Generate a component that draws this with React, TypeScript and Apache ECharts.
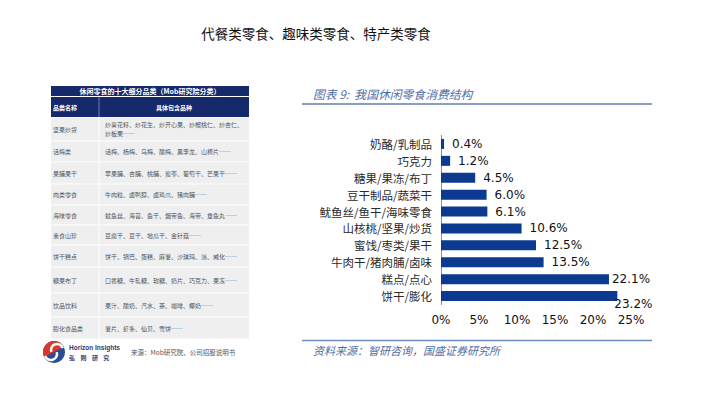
import React, { useEffect, useRef } from "react";
import * as echarts from "echarts";

const pageTitle = "代餐类零食、趣味类零食、特产类零食";
const chartTitle = "图表 9:  我国休闲零食消费结构";
const chartSource = "资料来源：智研咨询，国盛证券研究所";

const categories = [
  "奶酪/乳制品",
  "巧克力",
  "糖果/果冻/布丁",
  "豆干制品/蔬菜干",
  "鱿鱼丝/鱼干/海味零食",
  "山核桃/坚果/炒货",
  "蜜饯/枣类/果干",
  "牛肉干/猪肉脯/卤味",
  "糕点/点心",
  "饼干/膨化",
];
const shares = [0.4, 1.2, 4.5, 6.0, 6.1, 10.6, 12.5, 13.5, 22.1, 23.2];
const xTicks = [0, 5, 10, 15, 20, 25];

const tableTitle = "休闲零食的十大细分品类（Mob研究院分类）";
const tableHeader = ["品类名称", "具体包含品种"];
const tableNames = [
  "坚果炒货",
  "话梅类",
  "果脯果干",
  "肉类零食",
  "海味零食",
  "素食山珍",
  "饼干糕点",
  "糖果布丁",
  "饮品饮料",
  "膨化食品类",
];
const tableItems = [
  "炒葵花籽、炒花生、炒开心果、炒榴桃仁、炒杏仁、\n炒板栗……",
  "话梅、杨梅、乌梅、酸梅、黑李龙、山楂片……",
  "苹果脯、杏脯、桃脯、蜜枣、葡萄干、芒果干……",
  "牛肉粒、卤鸭脖、卤鸡爪、猪肉脯……",
  "鱿鱼丝、海苔、鱼干、烟带鱼、海带、章鱼丸……",
  "豆腐干、豆干、地瓜干、金针菇……",
  "饼干、锅巴、蛋糕、麻薯、沙琪玛、派、威化……",
  "口香糖、牛轧糖、软糖、奶片、巧克力、果冻……",
  "果汁、酸奶、汽水、茶、咖啡、椰奶……",
  "薯片、虾条、仙贝、雪饼……",
];
const tableSource = "来源：Mob研究院、公司招股说明书";

export default function App() {
  const ref = useRef<HTMLDivElement>(null);
  useEffect(() => {
    if (!ref.current) return;
    const chart = echarts.init(ref.current, undefined, { renderer: "svg" });
    const navy = "#16296b";
    const rowEdges = [117, 141, 162, 184, 205, 225, 245, 267, 293, 317, 339];
    const tL = 51, tR = 249, tDiv = 99;
    const graphics: any[] = [];
    // table title row
    graphics.push({ type: "rect", shape: { x: tL, y: 86, width: tR - tL, height: 10 }, style: { fill: navy } });
    graphics.push({ type: "text", x: (tL + tR) / 2, y: 91, style: { text: tableTitle, fill: "#fff", font: "bold 7px 'Noto Sans CJK SC'", align: "center", verticalAlign: "middle" } });
    graphics.push({ type: "rect", shape: { x: tL, y: 97, width: tR - tL, height: 20 }, style: { fill: navy } });
    graphics.push({ type: "line", shape: { x1: tDiv, y1: 97, x2: tDiv, y2: 117 }, style: { stroke: "#8a96c0", lineWidth: 0.8 } });
    graphics.push({ type: "text", x: tL + 2, y: 107, style: { text: tableHeader[0], fill: "#fff", font: "bold 6px 'Noto Sans CJK SC'", verticalAlign: "middle" } });
    graphics.push({ type: "text", x: 174, y: 107, style: { text: tableHeader[1], fill: "#fff", font: "bold 6px 'Noto Sans CJK SC'", align: "center", verticalAlign: "middle" } });
    for (let i = 0; i < tableNames.length; i++) {
      const y0 = rowEdges[i], y1 = rowEdges[i + 1];
      graphics.push({ type: "rect", shape: { x: tL, y: y0 + 0.5, width: tR - tL, height: y1 - y0 - 1 }, style: { fill: "#efefef" } });
      graphics.push({ type: "line", shape: { x1: tDiv, y1: y0, x2: tDiv, y2: y1 }, style: { stroke: "#ffffff", lineWidth: 1 } });
      graphics.push({ type: "text", x: tL + 2, y: (y0 + y1) / 2, style: { text: tableNames[i], fill: "#555", font: "6px 'Noto Sans CJK SC'", verticalAlign: "middle" } });
      graphics.push({ type: "text", x: tDiv + 6, y: (y0 + y1) / 2, style: { text: tableItems[i], fill: "#555", font: "6px 'Noto Sans CJK SC'", verticalAlign: "middle", lineHeight: 9 } });
    }
    // logo
    graphics.push({ type: "circle", shape: { cx: 54, cy: 352, r: 11 }, style: { fill: "#2b4a9a" } });
    graphics.push({ type: "sector", shape: { cx: 54, cy: 352, r: 11, r0: 0, startAngle: Math.PI * 0.85, endAngle: Math.PI * 1.85 }, style: { fill: "#d9382c" } });
    graphics.push({ type: "arc", shape: { cx: 57, cy: 350, r: 6, startAngle: Math.PI * 0.9, endAngle: Math.PI * 1.9 }, style: { stroke: "#fff", lineWidth: 2.5, fill: "none" } });
    graphics.push({ type: "arc", shape: { cx: 51, cy: 354, r: 6, startAngle: Math.PI * 1.9, endAngle: Math.PI * 2.9 }, style: { stroke: "#fff", lineWidth: 2.5, fill: "none" } });
    graphics.push({ type: "text", x: 69, y: 347, style: { text: "Horizon Insights", fill: "#2b3a7a", font: "bold 6.5px 'Liberation Sans'", verticalAlign: "middle" } });
    graphics.push({ type: "text", x: 69, y: 357, style: { text: "弘    则    研    究", fill: "#2b3a7a", font: "bold 6px 'Noto Sans CJK SC'", verticalAlign: "middle" } });
    graphics.push({ type: "text", x: 131, y: 352, style: { text: tableSource, fill: "#555", font: "6.5px 'Noto Sans CJK SC'", verticalAlign: "middle" } });
    // right panel decorations
    graphics.push({ type: "text", x: 313, y: 93, style: { text: chartTitle, fill: "#4f6ea6", font: "italic 11.8px 'Noto Sans CJK SC'", verticalAlign: "middle" } });
    graphics.push({ type: "line", shape: { x1: 302, y1: 104, x2: 652, y2: 104 }, style: { stroke: "#5f7fb5", lineWidth: 1.5 } });
    graphics.push({ type: "line", shape: { x1: 302, y1: 340.5, x2: 652, y2: 340.5 }, style: { stroke: "#6f8cc0", lineWidth: 1.5 } });
    graphics.push({ type: "text", x: 313, y: 350, style: { text: chartSource, fill: "#4f6ea6", font: "italic 11px 'Noto Sans CJK SC'", verticalAlign: "middle" } });
    // page title
    graphics.push({ type: "text", x: 316, y: 33, style: { text: pageTitle, fill: "#111", font: "13.5px 'Noto Sans CJK SC'", align: "center", verticalAlign: "middle" } });

    const data = shares.map((v, i) => {
      const item: any = { value: v };
      if (i === shares.length - 1) {
        item.label = { distance: 0, offset: [-3, 8] };
      } else if (i === shares.length - 2) {
        item.label = { distance: 3 };
      }
      return item;
    });

    chart.setOption({
      animation: false,
      backgroundColor: "#ffffff",
      grid: { left: 441, right: 89, top: 135.5, bottom: 100.5, containLabel: false },
      xAxis: {
        type: "value",
        min: 0,
        max: 25,
        interval: 5,
        axisLine: { show: false },
        axisTick: { show: false },
        splitLine: { show: false },
        axisLabel: {
          formatter: (v: number) => (xTicks.includes(v) ? v + "%" : ""),
          color: "#111",
          fontSize: 12,
          fontFamily: "DejaVu Sans",
          margin: 9,
        },
      },
      yAxis: {
        type: "category",
        data: categories,
        inverse: true,
        axisLine: { show: true, lineStyle: { color: "#8a8a8a", width: 1 } },
        axisTick: { show: false },
        axisLabel: { color: "#2a2a2a", fontSize: 11.5, fontFamily: "Noto Sans CJK SC", margin: 9 },
      },
      series: [
        {
          type: "bar",
          data,
          barWidth: 10,
          itemStyle: { color: "#0c3a90" },
          label: {
            show: true,
            position: "right",
            distance: 8,
            formatter: (p: any) => p.value.toFixed(1) + "%",
            color: "#111",
            fontSize: 12,
            fontFamily: "DejaVu Sans",
          },
        },
      ],
      graphic: { elements: graphics },
    });
    return () => chart.dispose();
  }, []);
  return <div ref={ref} style={{ width: 720, height: 405, position: "absolute", left: 0, top: 0 }} />;
}
